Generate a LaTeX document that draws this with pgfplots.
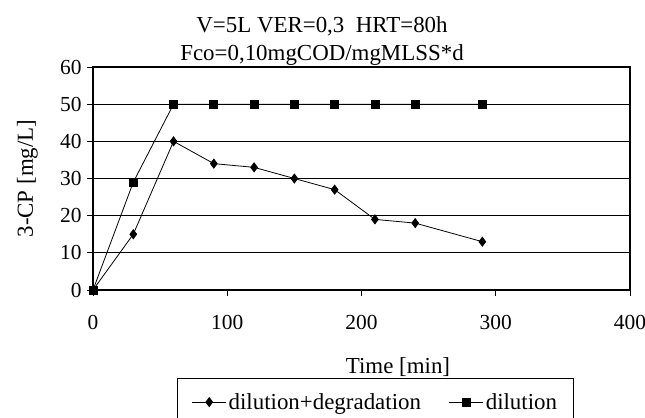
\documentclass[border=0pt]{standalone}
\usepackage{pgfplots}
\pgfplotsset{compat=1.18}
\usepackage{fontspec}
\setmainfont{Liberation Serif}

\begin{document}
\begin{tikzpicture}
\begin{axis}[
  at={(0,0)}, anchor=south west,
  scale only axis,
  width=537bp, height=223bp,
  xmin=0, xmax=400, ymin=0, ymax=60,
  xtick={0,100,...,400}, ytick={0,10,...,60},
  font=\fontsize{23}{28}\selectfont,
  tick label style={font=\fontsize{21.5}{26}\selectfont},
  /pgf/number format/assume math mode=true,
  tick align=outside, tick pos=left,
  major tick length=6bp,
  every tick/.style={black, line width=0.9pt},
  axis line style={black, line width=1.1pt},
  ymajorgrids, grid style={black, line width=0.8pt},
  xticklabel style={yshift=-16bp},
  yticklabel style={xshift=-2bp},
  title={V=5L VER=0,3\ \ HRT=80h\\Fco=0,10mgCOD/mgMLSS*d},
  title style={at={(axis description cs:0.4265,1)}, anchor=south, align=center, yshift=-8bp},
  xlabel={Time [min]},
  xlabel style={at={(axis description cs:0.568,0)}, anchor=center, yshift=-77bp},
  ylabel={3-CP [mg/L]},
  ylabel style={at={(axis description cs:-0.122,0.5)}, anchor=center},
  legend columns=2,
  legend style={at={(axis description cs:0.526,0)}, anchor=north, yshift=-88bp,
    draw=black, line width=0.8pt, inner xsep=14bp, inner ysep=13bp,
    /tikz/every even column/.append style={column sep=26bp}},
  legend image code/.code={
    \draw[#1, mark repeat=2, mark phase=2] plot coordinates {(0bp,0bp) (17bp,0bp) (34bp,0bp)};
  },
]
% measured degradation run
\addplot[black, line width=0.8pt, mark=diamond*, mark size=4.5bp, mark options={solid, fill=black}]
  coordinates {(0,0) (30,15) (60,40) (90,34) (120,33) (150,30) (180,27) (210,19) (240,18) (290,13)};
\addlegendentry{dilution+degradation}
% pure dilution reference
\addplot[black, line width=0.8pt, mark=square*, mark size=4bp, mark options={solid, fill=black}]
  coordinates {(0,0) (30,29) (60,50) (90,50) (120,50) (150,50) (180,50) (210,50) (240,50) (290,50)};
\addlegendentry{dilution}
% closing frame on top and right
\draw[black, line width=1.1pt] (rel axis cs:0,1) -- (rel axis cs:1,1) -- (rel axis cs:1,0);
\end{axis}
\pgfresetboundingbox
\path[use as bounding box] (-93bp,-128bp) rectangle (552bp,290bp);
\end{tikzpicture}
\end{document}
